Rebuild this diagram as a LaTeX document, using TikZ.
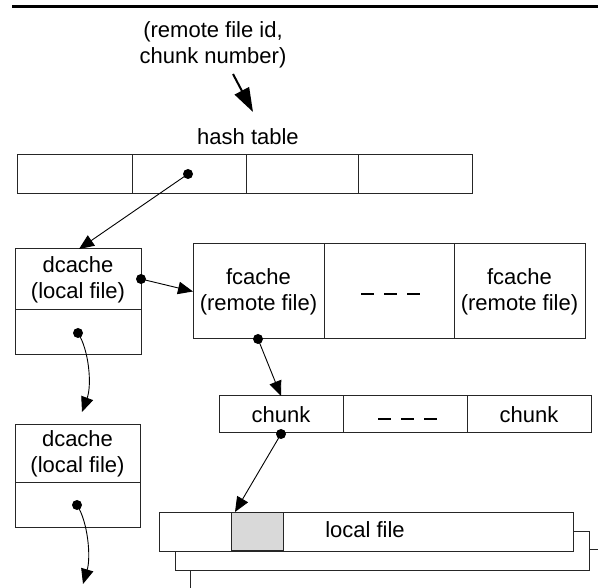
\documentclass[tikz,border=0pt]{standalone}
\usepackage{fontspec}
\setmainfont{Liberation Sans}
\usetikzlibrary{arrows.meta}
\definecolor{lightfill}{RGB}{217,217,217}
\begin{document}
\begin{tikzpicture}[x=1pt,y=-1pt,
  txt/.style={font=\fontsize{22}{26}\selectfont, align=center, inner sep=0pt},
  cell/.style={draw=black!85, line width=1pt, fill=white, inner sep=0pt, outer sep=0pt,
               font=\fontsize{22}{26}\selectfont, align=center},
  dot/.style={circle, fill=black, inner sep=0pt, minimum size=10pt},
  ptr/.style={line width=0.9pt, -{Triangle[length=15pt,width=12.5pt]}},
  bigptr/.style={line width=2pt, -{Triangle[length=24pt,width=16pt]}},
  dashmark/.style={line width=2.2pt, dash pattern=on 13pt off 10pt}
]
\useasboundingbox (0,0) rectangle (598,588);
\begin{scope}
\clip (0,0) rectangle (598,588);

% top rule
\draw[line width=2.8pt] (12,6.5) -- (598,6.5);

% label and hash table
\node[txt] (key) at (213,45) {(remote file id,\\chunk number)};
\coordinate (keyarrow) at (233,74);
\node[txt] (htlabel) at (248,137) {hash table};
\coordinate (keytip) at (253,112);
\draw[bigptr] (keyarrow) -- (keytip);

\node[cell, minimum width=115pt, minimum height=39pt] (h1) at (74.5,174.5) {};
\node[cell, minimum width=114pt, minimum height=39pt] (h2) at (189,174.5) {};
\node[cell, minimum width=112pt, minimum height=39pt] (h3) at (302,174.5) {};
\node[cell, minimum width=114pt, minimum height=39pt] (h4) at (415,174.5) {};

% dcache 1
\node[cell, minimum width=126pt, minimum height=61pt] (d1t) at (78,279.5) {dcache\\(local file)};
\node[cell, minimum width=126pt, minimum height=45pt] (d1b) at (78,332.5) {};

% fcache row
\node[cell, minimum width=131pt, minimum height=95pt] (fc1) at (258.5,291.5) {fcache\\(remote file)};
\node[cell, minimum width=130pt, minimum height=95pt] (fc2) at (389,291.5) {};
\node[cell, minimum width=131pt, minimum height=95pt] (fc3) at (519.5,291.5) {fcache\\(remote file)};
\draw[dashmark] ([xshift=-28pt,yshift=-2.5pt]fc2.center) -- ([xshift=32pt,yshift=-2.5pt]fc2.center);

% chunk row
\node[cell, minimum width=124pt, minimum height=37pt] (ch1) at (281,414.5) {chunk};
\node[cell, minimum width=124pt, minimum height=37pt] (ch2) at (405,414.5) {};
\node[cell, minimum width=124pt, minimum height=37pt] (ch3) at (529,414.5) {chunk};
\draw[dashmark] ([xshift=-27pt,yshift=-4.5pt]ch2.center) -- ([xshift=33pt,yshift=-4.5pt]ch2.center);

% dcache 2
\node[cell, minimum width=125pt, minimum height=58pt] (d2t) at (77.5,454) {dcache\\(local file)};
\node[cell, minimum width=125pt, minimum height=44pt] (d2b) at (77.5,505) {};

% local file stack
\node[cell, minimum width=416pt, minimum height=46pt] (lf3) at (398,572) {};
\node[cell, minimum width=414pt, minimum height=39pt] (lf2) at (382,550.5) {};
\node[cell, minimum width=414pt, minimum height=39pt] (lf1) at (366,531.5) {};
\node[cell, fill=lightfill, minimum width=52pt, minimum height=38pt] (gs) at (257,531) {};
\node[txt] (lftext) at (365,530) {local file};

% dots
\node[dot] (dh)  at (188,174) {};
\node[dot] (d1r) at (141,279) {};
\node[dot] (d1d) at (78,333) {};
\node[dot] (dfc) at (258,339) {};
\node[dot] (dch) at (281,434) {};
\node[dot] (d2d) at (77,505) {};

% pointers
\draw[ptr] (dh.center) -- ([xshift=1pt]d1t.north);
\draw[ptr] (d1r.center) -- (fc1.west);
\draw[ptr] (dfc.center) -- (ch1.north);
\draw[ptr] (dch.center) -- ([xshift=4pt]gs.north west);
\coordinate (next1) at (82,412);
\coordinate (next2) at (83,584);
\draw[ptr] (d1d.center) .. controls (89,350) and (92,385) .. (next1);
\draw[ptr] (d2d.center) .. controls (88,522) and (91,557) .. (next2);
\end{scope}
\end{tikzpicture}
\end{document}
